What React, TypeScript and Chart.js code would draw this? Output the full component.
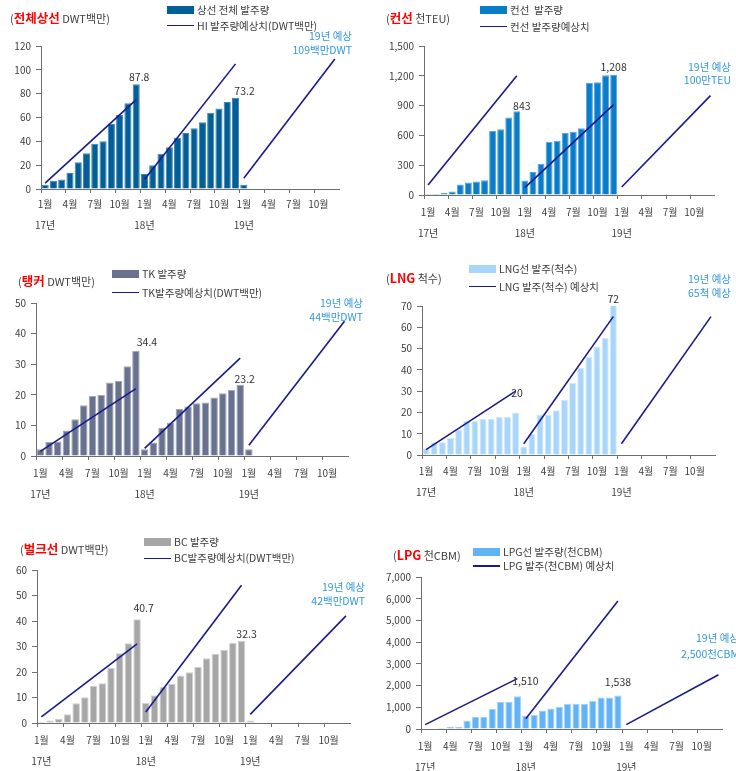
import React, { useEffect, useRef } from 'react';
import { Chart, registerables } from 'chart.js';

Chart.register(...registerables);

// ---------- categories ----------
const monthNames = ['1월', '2월', '3월', '4월', '5월', '6월', '7월', '8월', '9월', '10월', '11월', '12월'];
const yearNames = ['17년', '18년', '19년'];
const categories = yearNames.flatMap((y) => monthNames.map((m) => `${y} ${m}`));

// ---------- data (cumulative orders, Jan-17 .. Jan-19) ----------
const totalOrders = [3.5, 7, 8, 13.5, 22.5, 30, 38, 40, 54.5, 62, 72, 87.8, 12.5, 20, 29.5, 35, 43, 47, 51, 56, 64, 67.5, 73, 76.5, 3.5];
const totalForecast17 = [5, 75];
const totalForecast18 = [8, 105];
const totalForecast19 = [9, 109];
const totalLabels = ['87.8', '73.2'];

const containerOrders = [10, 10, 20, 35, 105, 125, 135, 148, 645, 662, 780, 843, 145, 232, 315, 537, 545, 625, 638, 672, 1128, 1134, 1205, 1208, 0];
const containerForecast17 = [100, 1200];
const containerForecast18 = [75, 910];
const containerForecast19 = [80, 1000];
const containerLabels = ['843', '1,208'];

const tankerOrders = [2.2, 4.6, 4.7, 8.3, 12, 16.6, 19.6, 20, 24, 24.5, 29.3, 34.4, 2.2, 4.4, 9.2, 10.9, 15.4, 16.2, 17.2, 17.5, 19.1, 20.5, 21.6, 23.2, 2.2];
const tankerForecast17 = [1.5, 22];
const tankerForecast18 = [2.5, 32];
const tankerForecast19 = [3.5, 44];
const tankerLabels = ['34.4', '23.2'];

const lngOrders = [3, 6, 6, 8, 12, 16, 16, 17, 17, 18, 18, 20, 4, 10, 19, 19, 21, 26, 34, 41, 46, 51, 55, 72, 0];
const lngForecast17 = [2.5, 30];
const lngForecast18 = [5.3, 65];
const lngForecast19 = [5.3, 65];
const lngLabels = ['20', '72'];

const bulkOrders = [0.5, 1, 1.7, 3.4, 7.7, 10.1, 14.5, 15.6, 21.7, 27.4, 31.3, 40.7, 7.9, 10.9, 14.1, 15.3, 18.6, 19.9, 22, 25.4, 27.1, 28.7, 31.4, 32.3, 1];
const bulkForecast17 = [2.4, 31];
const bulkForecast18 = [4.3, 54];
const bulkForecast19 = [3.4, 42];
const bulkLabels = ['40.7', '32.3'];

const lpgOrders = [0, 0, 46, 107, 107, 397, 565, 565, 917, 1253, 1253, 1510, 611, 642, 856, 948, 1024, 1162, 1162, 1162, 1284, 1452, 1452, 1538, 0];
const lpgForecast17 = [200, 2320];
const lpgForecast18 = [470, 5900];
const lpgForecast19 = [200, 2500];
const lpgLabels = ['1,510', '1,538'];

// ---------- styling ----------
const FONT = "'Noto Sans CJK KR', 'Noto Sans', sans-serif";
const AXIS = '#6e6e6e';
const TEXT = '#404040';
const LINE = '#1a1a8e';
const NOTE = '#3399dd';

type ValueLabel = { i: number; text: string; y: number; dx: number };

type PanelDef = {
  L: number; T: number; R: number; B: number;
  yMax: number; yStep: number; xPad: number;
  bars: number[]; barColor: string; barBorder: string;
  forecasts: number[][];
  labels: ValueLabel[];
  title: { x: number; y: number; main: string; rest: string };
  legend: { x: number; y1: number; y2: number; barText: string; lineText: string };
  note: { right: number; y1: number; y2: number; l1: string; l2: string };
};

const panels: PanelDef[] = [
  {
    L: 41, T: 46, R: 339, B: 189, yMax: 120, yStep: 20, xPad: 5.5,
    bars: totalOrders, barColor: '#005f96', barBorder: '#3f86b6',
    forecasts: [totalForecast17, totalForecast18, totalForecast19],
    labels: [
      { i: 11, text: totalLabels[0], y: 94, dx: 3 },
      { i: 23, text: totalLabels[1], y: 82.5, dx: 9 },
    ],
    title: { x: 10, y: 18, main: '전체상선', rest: ' DWT백만)' },
    legend: { x: 167, y1: 10, y2: 25.7, barText: '상선 전체 발주량', lineText: 'HI 발주량예상치(DWT백만)' },
    note: { right: 352, y1: 36, y2: 50.3, l1: '19년 예상', l2: '109백만DWT' },
  },
  {
    L: 424, T: 46, R: 716, B: 195, yMax: 1500, yStep: 300, xPad: 7.5,
    bars: containerOrders, barColor: '#0a7dc8', barBorder: '#5aa6dc',
    forecasts: [containerForecast17, containerForecast18, containerForecast19],
    labels: [
      { i: 11, text: containerLabels[0], y: 896, dx: 5 },
      { i: 23, text: containerLabels[1], y: 1292, dx: 0 },
    ],
    title: { x: 386, y: 18.3, main: '컨선', rest: ' 천TEU)' },
    legend: { x: 480, y1: 9.7, y2: 26.7, barText: '컨선  발주량', lineText: '컨선 발주량예상치' },
    note: { right: 731, y1: 66.7, y2: 80, l1: '19년 예상', l2: '100만TEU' },
  },
  {
    L: 36, T: 303, R: 350, B: 456, yMax: 50, yStep: 10, xPad: 7.5,
    bars: tankerOrders, barColor: '#68728e', barBorder: '#a2a8b9',
    forecasts: [tankerForecast17, tankerForecast18, tankerForecast19],
    labels: [
      { i: 11, text: tankerLabels[0], y: 37.2, dx: 11 },
      { i: 23, text: tankerLabels[1], y: 25.2, dx: 4.5 },
    ],
    title: { x: 18, y: 281, main: '탱커', rest: ' DWT백만)' },
    legend: { x: 112, y1: 274.3, y2: 292.7, barText: 'TK 발주량', lineText: 'TK발주량예상치(DWT백만)' },
    note: { right: 363, y1: 303.3, y2: 317.3, l1: '19년 예상', l2: '44백만DWT' },
  },
  {
    L: 422, T: 306, R: 716, B: 455, yMax: 70, yStep: 10, xPad: 7,
    bars: lngOrders, barColor: '#a8d5fa', barBorder: '#d3eafc',
    forecasts: [lngForecast17, lngForecast18, lngForecast19],
    labels: [
      { i: 11, text: lngLabels[0], y: 29.3, dx: 1.5 },
      { i: 23, text: lngLabels[1], y: 73.5, dx: 0 },
    ],
    title: { x: 386, y: 278.3, main: 'LNG', rest: ' 척수)' },
    legend: { x: 469, y1: 269, y2: 286.7, barText: 'LNG선 발주(척수)', lineText: 'LNG 발주(척수) 예상치' },
    note: { right: 731, y1: 279, y2: 292.7, l1: '19년 예상', l2: '65척 예상' },
  },
  {
    L: 37, T: 570, R: 352, B: 723, yMax: 60, yStep: 10, xPad: 8,
    bars: bulkOrders, barColor: '#a6a6a6', barBorder: '#cfcfcf',
    forecasts: [bulkForecast17, bulkForecast18, bulkForecast19],
    labels: [
      { i: 11, text: bulkLabels[0], y: 45, dx: 6.5 },
      { i: 23, text: bulkLabels[1], y: 34.7, dx: 5 },
    ],
    title: { x: 20, y: 549, main: '벌크선', rest: ' DWT백만)' },
    legend: { x: 144, y1: 541.7, y2: 558.3, barText: 'BC 발주량', lineText: 'BC발주량예상치(DWT백만)' },
    note: { right: 365, y1: 586.7, y2: 601, l1: '19년 예상', l2: '42백만DWT' },
  },
  {
    L: 421, T: 577, R: 724, B: 729, yMax: 7000, yStep: 1000, xPad: 7.5,
    bars: lpgOrders, barColor: '#62b2f6', barBorder: '#a3d2fa',
    forecasts: [lpgForecast17, lpgForecast18, lpgForecast19],
    labels: [
      { i: 11, text: lpgLabels[0], y: 2215, dx: 8 },
      { i: 23, text: lpgLabels[1], y: 2156, dx: 0 },
    ],
    title: { x: 393, y: 555, main: 'LPG', rest: ' 천CBM)' },
    legend: { x: 473, y1: 552.3, y2: 566, barText: 'LPG선 발주량(천CBM)', lineText: 'LPG 발주(천CBM) 예상치' },
    note: { right: 739, y1: 638.3, y2: 654.3, l1: '19년 예상', l2: '2,500천CBM' },
  },
];

const Y_W = 50;
const PAD_TOP = 20;
const X_H = 50;

function ChartPanel({ p }: { p: PanelDef }) {
  const ref = useRef<HTMLCanvasElement | null>(null);
  const cx = p.L - Y_W;
  const cy = p.T - PAD_TOP;
  const cw = p.R - cx + 2;
  const ch = p.B - cy + X_H;

  useEffect(() => {
    if (!ref.current) return;
    const barData = categories.map((_, i) => (i < p.bars.length ? p.bars[i] : null));
    const lineSets = p.forecasts.map((f, s) => {
      const d: (number | null)[] = categories.map(() => null);
      d[s * 12] = f[0];
      d[s * 12 + 11] = f[1];
      return {
        type: 'line' as const,
        data: d,
        borderColor: LINE,
        borderWidth: 1.6,
        pointRadius: 0,
        spanGaps: true,
        fill: false,
        order: 0,
      };
    });

    const labelPlugin = {
      id: 'valueLabels',
      afterDatasetsDraw(chart: any) {
        const { ctx, scales } = chart;
        ctx.save();
        ctx.font = `10.5px ${FONT}`;
        ctx.fillStyle = '#333333';
        ctx.textAlign = 'center';
        ctx.textBaseline = 'middle';
        p.labels.forEach((l) => {
          ctx.fillText(l.text, scales.x.getPixelForValue(l.i) + l.dx, scales.y.getPixelForValue(l.y));
        });
        ctx.restore();
      },
    };

    const chart = new Chart(ref.current, {
      type: 'bar',
      data: {
        labels: categories,
        datasets: [
          {
            type: 'bar' as const,
            data: barData,
            backgroundColor: p.barColor,
            borderColor: p.barBorder,
            borderWidth: 1,
            barPercentage: 0.86,
            categoryPercentage: 1,
            clip: 0 as any,
            order: 1,
          },
          ...lineSets,
        ] as any,
      },
      options: {
        responsive: true,
        maintainAspectRatio: false,
        animation: false,
        events: [],
        layout: { padding: { top: PAD_TOP, right: 2, left: 0, bottom: 0 } },
        plugins: { legend: { display: false }, tooltip: { enabled: false } },
        scales: {
          x: {
            type: 'category',
            offset: true,
            grid: {
              offset: true,
              drawOnChartArea: false,
              drawTicks: true,
              tickLength: 4,
              color: (c: any) => (c.index % 3 === 0 ? AXIS : 'rgba(0,0,0,0)'),
            },
            border: { display: true, color: AXIS, width: 1 },
            ticks: {
              autoSkip: false,
              maxRotation: 0,
              minRotation: 0,
              padding: p.xPad,
              color: TEXT,
              font: { family: FONT, size: 10, lineHeight: 1.05 },
              callback: (_v: any, i: number) => {
                if (i % 3 !== 0) return '';
                const m = monthNames[i % 12];
                if (i % 12 === 0) return [m, '', yearNames[i / 12]];
                return m;
              },
            },
            afterFit: (s: any) => {
              s.height = X_H;
            },
          },
          y: {
            min: 0,
            max: p.yMax,
            grid: { drawOnChartArea: false, drawTicks: true, tickLength: 5, color: AXIS },
            border: { display: true, color: AXIS, width: 1 },
            ticks: {
              stepSize: p.yStep,
              padding: 5,
              color: TEXT,
              font: { family: FONT, size: 10 },
              callback: (v: any) => Number(v).toLocaleString('en-US'),
            },
            afterFit: (s: any) => {
              s.width = Y_W;
            },
          },
        },
      } as any,
      plugins: [labelPlugin],
    });
    return () => chart.destroy();
  }, []);

  return (
    <div style={{ position: 'absolute', left: cx, top: cy, width: cw, height: ch }}>
      <canvas ref={ref} />
    </div>
  );
}

function Overlay({ p }: { p: PanelDef }) {
  const center: React.CSSProperties = { position: 'absolute', transform: 'translateY(-50%)', lineHeight: 1, whiteSpace: 'pre' };
  return (
    <>
      <div style={{ ...center, left: p.title.x, top: p.title.y, fontSize: 11, color: TEXT }}>
        (<span style={{ color: '#ff0000', fontWeight: 700, fontSize: 12.5 }}>{p.title.main}</span>
        {p.title.rest}
      </div>
      <div style={{ position: 'absolute', left: p.legend.x, top: p.legend.y1 - 4, width: 27, height: 8, background: p.barColor }} />
      <div style={{ ...center, left: p.legend.x + 30, top: p.legend.y1, fontSize: 10.5, color: TEXT }}>{p.legend.barText}</div>
      <div style={{ position: 'absolute', left: p.legend.x, top: p.legend.y2 - 0.8, width: 27, height: 1.6, background: LINE }} />
      <div style={{ ...center, left: p.legend.x + 30, top: p.legend.y2, fontSize: 10.5, color: TEXT }}>{p.legend.lineText}</div>
      <div style={{ ...center, right: 736 - p.note.right, top: p.note.y1, fontSize: 10.5, color: NOTE, textAlign: 'right' }}>{p.note.l1}</div>
      <div style={{ ...center, right: 736 - p.note.right, top: p.note.y2, fontSize: 10.5, color: NOTE, textAlign: 'right' }}>{p.note.l2}</div>
    </>
  );
}

export default function App() {
  return (
    <div
      style={{
        position: 'fixed',
        left: 0,
        top: 0,
        width: 736,
        height: 771,
        overflow: 'hidden',
        background: '#ffffff',
        fontFamily: FONT,
      }}
    >
      {panels.map((p, k) => (
        <ChartPanel key={`c${k}`} p={p} />
      ))}
      {panels.map((p, k) => (
        <Overlay key={`o${k}`} p={p} />
      ))}
    </div>
  );
}
